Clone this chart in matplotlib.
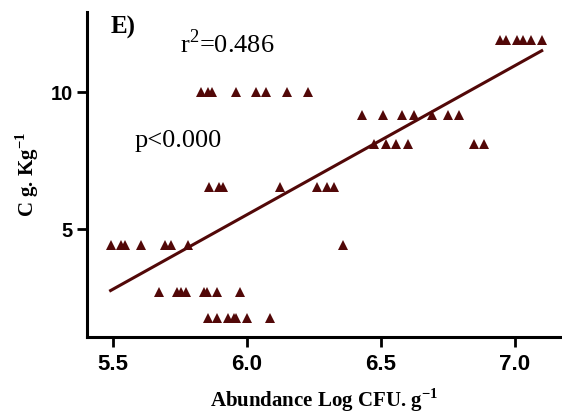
import numpy as np
import matplotlib
matplotlib.use('Agg')
import matplotlib.pyplot as plt

plt.rcParams['mathtext.fontset'] = 'custom'
plt.rcParams['mathtext.rm'] = 'Liberation Serif'
plt.rcParams['mathtext.bf'] = 'Liberation Serif:bold'

# abundance (log CFU/g) and carbon (g/kg), grouped by carbon level
x_c12 = [6.945, 6.968, 7.009, 7.030, 7.061, 7.100]
x_c10 = [5.831, 5.855, 5.872, 5.961, 6.035, 6.073, 6.149, 6.228]
x_c92 = [6.430, 6.507, 6.579, 6.625, 6.690, 6.749, 6.792]
x_c81 = [6.476, 6.519, 6.556, 6.601, 6.847, 6.884]
x_c66 = [5.859, 5.896, 5.911, 6.122, 6.261, 6.298, 6.327]
x_c44 = [5.492, 5.529, 5.545, 5.604, 5.695, 5.717, 5.781, 6.360]
x_c27 = [5.673, 5.738, 5.756, 5.775, 5.839, 5.852, 5.887, 5.973]
x_c18 = [5.855, 5.887, 5.930, 5.951, 5.961, 6.001, 6.088]
c_levels = [11.9, 10.0, 9.18, 8.12, 6.55, 4.43, 2.72, 1.77]

# linear fit reported on the figure
fit_slope = 5.45
fit_intercept = -27.17
fit_x = np.array([5.492, 7.10])

xs = [x_c12, x_c10, x_c92, x_c81, x_c66, x_c44, x_c27, x_c18]
abund = np.concatenate([np.array(v) for v in xs])
carbon = np.concatenate([np.full(len(v), c) for v, c in zip(xs, c_levels)])

col = '#520808'
fig = plt.figure(figsize=(5.62, 4.17), dpi=100)
ax = fig.add_axes([0.1553, 0.1926, 0.842, 0.7786])
ax.plot(abund, carbon, '^', color=col, markersize=7, markeredgewidth=0)
ax.plot(fit_x, fit_slope * fit_x + fit_intercept, '-', color=col, lw=2.2)

ax.set_xlim(5.405, 7.17)
ax.set_ylim(1.075, 12.94)
ax.set_xticks([5.5, 6.0, 6.5, 7.0])
ax.set_xticklabels(['5.5', '6.0', '6.5', '7.0'])
ax.set_yticks([5, 10])
for s in ['top', 'right']:
    ax.spines[s].set_visible(False)
for s in ['left', 'bottom']:
    ax.spines[s].set_linewidth(2.2)
ax.tick_params(width=2.0, length=7.5)
ax.tick_params(axis='x', pad=5, labelsize=16)
ax.tick_params(axis='y', pad=3, labelsize=14.5)
for lab in ax.get_xticklabels() + ax.get_yticklabels():
    lab.set_fontweight('bold')
    lab.set_family('Liberation Sans')

ax.set_xlabel('Abundance Log CFU. g$^{\\mathbf{-1}}$', family='Liberation Serif',
              fontweight='bold', fontsize=15, labelpad=8)
ax.set_ylabel('C g. Kg$^{\\mathbf{-1}}$', family='Liberation Serif',
              fontweight='bold', fontsize=15, labelpad=7)

ax.text(5.492, 12.14, 'E)', family='Liberation Serif', fontweight='bold', fontsize=18)
ax.text(5.75, 11.44, 'r$^2$=0.486', family='Liberation Serif', fontsize=19)
ax.text(5.583, 8.02, 'p<0.000', family='Liberation Serif', fontsize=19)

fig.savefig('out.png', dpi=100)
